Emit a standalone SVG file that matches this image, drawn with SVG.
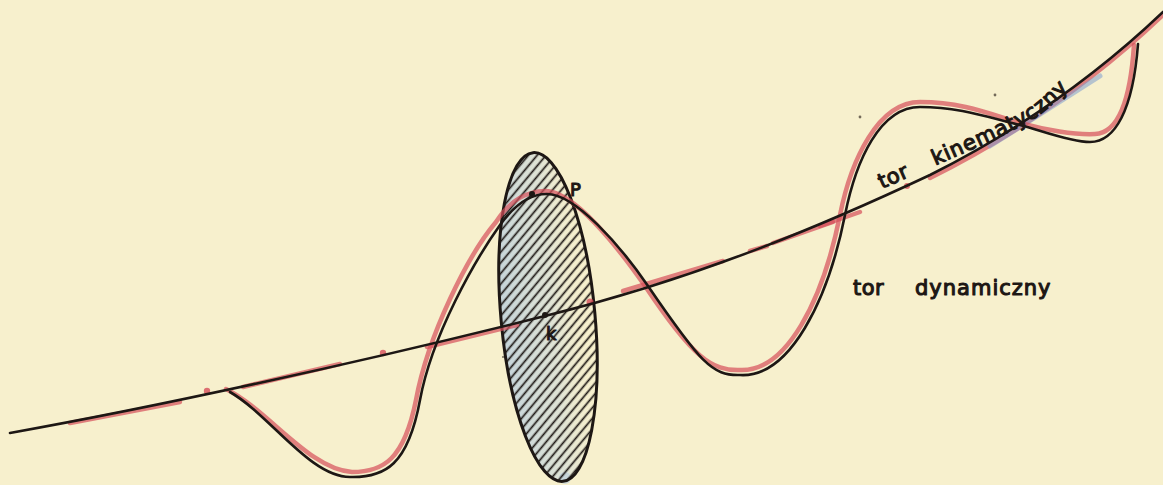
<svg xmlns="http://www.w3.org/2000/svg" width="1163" height="485" viewBox="0 0 1163 485">
  <style>
    .ink{fill:none;stroke:#1d1714;stroke-width:2.6;stroke-linecap:round;stroke-linejoin:round}
    .red{fill:none;stroke:#d64f5a;stroke-width:4.5;stroke-linecap:round;stroke-opacity:0.7}
    .redd{fill:#d64f5a;fill-opacity:0.8}
    .blue{fill:none;stroke:#7f9fd0;stroke-width:5;stroke-linecap:round;stroke-opacity:0.55}
    .lbl{font-family:"DejaVu Sans","Liberation Sans",sans-serif;font-size:21px;fill:#1d1714;stroke:#1d1714;stroke-width:1.1;stroke-linejoin:round}
    .dot{fill:#1d1714}
    .speck{fill:#3a3128;fill-opacity:0.7}
  </style>
  <defs>
    <pattern id="hatch" patternUnits="userSpaceOnUse" width="8" height="6.8" patternTransform="rotate(-45)">
      <line x1="0" y1="3.4" x2="8" y2="3.4" stroke="#1d1714" stroke-width="1.7"/>
    </pattern>
    <linearGradient id="tint" x1="0" y1="0" x2="1" y2="0">
      <stop offset="0" stop-color="#a9c4e0" stop-opacity="0.65"/>
      <stop offset="0.55" stop-color="#bcd0e0" stop-opacity="0.4"/>
      <stop offset="1" stop-color="#f6efcb" stop-opacity="0"/>
    </linearGradient>
    <path id="kinText" d="M882,189 C930,167 990,143 1025,124 C1045,113 1062,98 1090,62"/>
  </defs>

  <rect width="1163" height="485" fill="#f7f0cd"/>

  <g id="specks">
    <circle class="speck" cx="860" cy="117" r="1.4"/>
    <circle class="speck" cx="995" cy="95" r="1.4"/>
    <circle class="speck" cx="503" cy="357" r="1"/>
  </g>

  <g id="section">
    <ellipse cx="565" cy="478" rx="6" ry="6" fill="#a9c4e0" fill-opacity="0.5"/>
    <ellipse cx="548" cy="317" rx="47" ry="165" transform="rotate(-5.2 548 317)" fill="url(#tint)"/>
    <ellipse cx="548" cy="317" rx="47" ry="165" transform="rotate(-5.2 548 317)" fill="url(#hatch)"/>
    <ellipse cx="548" cy="317" rx="47" ry="165" transform="rotate(-5.2 548 317)" fill="none" stroke="#1d1714" stroke-width="3"/>
  </g>

  <g id="connectors">
    <g id="red-kinematic">
      <path class="red" d="M70,423 L180,402"/>
      <circle class="redd" cx="207" cy="391" r="3.2"/>
      <path class="red" d="M243,387 L340,364"/>
      <circle class="redd" cx="383" cy="353" r="3.2"/>
      <path class="red" d="M427,347 L517,325"/>
      <circle class="redd" cx="590" cy="302" r="3.5"/>
      <path class="red" d="M623,291 L723,261"/>
      <path class="red" d="M750,251 L767,246"/>
      <path class="red" d="M773,243 L833,222"/>
      <path class="red" d="M820,226 L860,212"/>
      <circle class="redd" cx="907" cy="186" r="3"/>
      <path class="red" d="M930,178 C1020,133 1100,75 1163,15"/>
      <path class="blue" d="M990,146 Q1045,111 1100,76"/>
    </g>
    <path id="red-dynamic" class="red" d="M226,389 C268,410 310,470 352,472 C383,472 404,460 416,400 C428,335 468,255 496,222 C510,200 528,191 545,191 C573,191 615,243 645,286 C693,358 712,371 740,370 C787,372 823,300 840,215 C851,160 878,102 920,102 C962,102 990,114 1020,123 C1045,130 1075,135 1095,134 C1117,133 1130,105 1134,45"/>
    <path id="tor-kinematyczny" class="ink" d="M10,433 C150,408 350,365 545,316 C700,278 830,222 930,175 C1020,130 1100,72 1163,12"/>
    <path id="tor-dynamiczny" class="ink" d="M230,392 C270,415 310,477 350,477 C385,478 408,465 420,400 C432,335 475,260 500,225 C515,204 530,194 547,194 C575,194 620,245 648,286 C700,362 712,376 740,375 C790,378 828,300 845,215 C856,160 880,107 920,107 C960,107 990,118 1020,125 C1040,130 1070,142 1090,142 C1115,142 1133,110 1138,44"/>
  </g>

  <g id="point-P">
    <circle class="dot" cx="532" cy="194" r="3"/>
    <text class="lbl" x="570" y="196" style="font-size:18px">P</text>
  </g>
  <g id="point-k">
    <circle class="dot" cx="545" cy="315" r="3"/>
    <text class="lbl" x="546" y="340" style="font-size:18px">k</text>
  </g>

  <g id="label-kinematic">
    <text class="lbl" letter-spacing="0.5"><textPath href="#kinText" startOffset="0">tor</textPath></text>
    <text class="lbl" letter-spacing="0.8"><textPath href="#kinText" startOffset="58">kinematyczny</textPath></text>
  </g>
  <g id="label-dynamic">
    <text class="lbl" x="853" y="295" letter-spacing="0.5">tor</text>
    <text class="lbl" x="915" y="295" letter-spacing="1">dynamiczny</text>
  </g>
</svg>
